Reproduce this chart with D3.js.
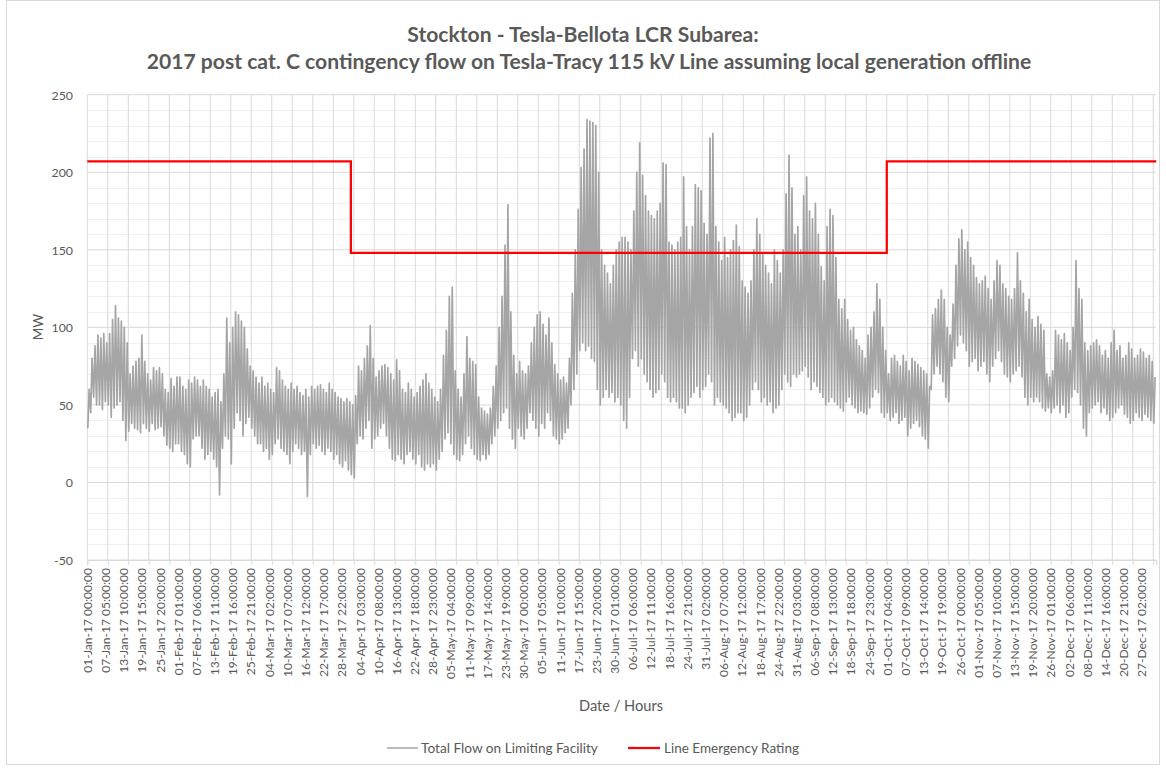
<!DOCTYPE html>
<html>
<head>
<meta charset="utf-8">
<script src="https://cdn.jsdelivr.net/npm/d3@7"></script>
<style>
  body { margin: 0; background: #fff; }
  svg { display: block; }
  text { font-family: Lato, "Open Sans", "Liberation Sans", sans-serif; fill: #595959; }
</style>
</head>
<body>
<svg id="chart" width="1166" height="771"></svg>
<script>
// Daily [low, high] flow on the limiting facility, MW, one pair per day
const flowJan = [[35,60],[45,80],[55,88],[50,95],[50,93],[47,96],[52,90],[50,96],[42,105],[48,114],[50,106],[52,104],[40,100],[27,90],[33,70],[38,75],[35,78],[34,80],[32,95],[38,78],[35,70],[33,66],[38,74],[34,72],[35,74],[36,70],[30,60],[24,58],[22,67],[20,62],[25,68]];
const flowFeb = [[25,68],[20,62],[18,60],[12,66],[10,64],[28,68],[30,66],[30,62],[22,66],[15,62],[18,60],[20,55],[15,58],[10,60],[-8,52],[22,70],[30,106],[28,90],[12,100],[35,110],[45,108],[40,104],[30,100],[38,86],[42,75],[35,72],[30,68],[25,64]];
const flowMar = [[25,68],[20,62],[22,64],[15,60],[18,58],[25,74],[28,72],[22,66],[20,62],[18,60],[12,64],[20,60],[25,62],[22,58],[18,56],[20,60],[-9,55],[18,62],[25,60],[22,62],[24,63],[20,60],[18,58],[22,64],[20,60],[15,58],[18,55],[12,54],[10,52],[14,54],[8,52]];
const flowApr = [[5,50],[3,56],[25,75],[30,72],[28,80],[35,88],[40,101],[22,80],[28,68],[30,72],[35,75],[38,76],[30,74],[22,70],[15,66],[14,79],[18,72],[15,60],[12,58],[18,64],[20,60],[15,55],[12,58],[18,62],[10,66],[8,70],[12,64],[10,60],[12,55],[8,52]];
const flowMay = [[15,60],[20,82],[28,98],[32,120],[25,126],[18,72],[15,60],[14,55],[18,70],[25,94],[30,80],[22,78],[18,76],[15,55],[14,48],[18,46],[15,44],[18,48],[25,62],[30,75],[35,100],[40,120],[45,153],[48,179],[35,110],[28,82],[22,70],[35,78],[30,72],[28,70],[35,75]];
const flowJun = [[45,90],[40,100],[35,108],[30,110],[38,102],[35,95],[45,106],[40,90],[30,76],[28,70],[25,66],[28,68],[32,64],[35,80],[50,122],[60,150],[70,176],[85,203],[90,215],[85,234],[88,233],[80,232],[78,230],[60,200],[50,150],[55,140],[60,135],[55,128],[58,140],[52,150]];
const flowJul = [[55,155],[50,158],[40,158],[35,155],[55,150],[80,175],[85,200],[75,219],[80,198],[70,185],[65,175],[60,172],[55,170],[58,175],[60,180],[70,206],[65,205],[55,155],[52,153],[55,150],[52,155],[48,158],[48,197],[45,165],[50,150],[55,165],[58,192],[62,190],[55,188],[60,167],[62,160]];
const flowAug = [[70,222],[65,225],[50,165],[55,155],[52,143],[50,158],[48,145],[45,150],[40,156],[42,166],[45,152],[45,130],[40,126],[42,122],[50,130],[60,150],[65,170],[60,160],[52,148],[55,140],[50,135],[52,128],[45,150],[48,143],[50,135],[60,150],[70,186],[65,211],[62,190],[70,160],[68,165]];
const flowSep = [[70,150],[72,185],[75,197],[68,175],[60,170],[65,180],[62,160],[58,139],[55,130],[50,165],[52,176],[55,172],[52,145],[50,118],[48,112],[46,118],[52,105],[55,98],[50,100],[48,92],[45,88],[46,85],[45,80],[44,95],[48,100],[55,110],[60,128],[58,118],[45,100],[42,85]];
const flowOct = [[45,70],[40,80],[42,82],[45,78],[38,75],[40,82],[42,78],[30,72],[35,80],[38,78],[40,76],[36,74],[30,72],[28,70],[22,62],[60,108],[70,112],[75,118],[70,124],[65,118],[55,100],[52,95],[75,115],[80,140],[88,157],[95,163],[90,150],[85,155],[75,145],[78,140],[80,132]];
const flowNov = [[72,128],[75,130],[78,133],[70,125],[65,118],[75,130],[80,143],[85,140],[78,128],[70,125],[68,120],[65,118],[70,125],[72,148],[75,130],[68,122],[55,110],[50,118],[55,105],[52,100],[55,107],[52,102],[48,98],[46,70],[48,68],[45,72],[48,98],[50,95],[45,92],[50,96]];
const flowDec = [[42,90],[45,85],[55,100],[60,143],[58,125],[50,118],[35,90],[30,85],[45,88],[48,90],[50,92],[52,88],[45,82],[48,85],[44,80],[40,90],[42,98],[45,85],[48,88],[50,80],[44,82],[42,90],[38,86],[40,80],[45,82],[42,86],[40,84],[44,80],[42,82],[40,78],[38,68]];

// Line emergency rating, MW, from the given hour of the year onward
const ratingHours = [0, 2160, 6552];
const ratingMW = [207, 148, 207];

const yTicks = [-50, 0, 50, 100, 150, 200, 250];
const hoursInYear = 8760;
const labelStepHours = 149;   // category label interval
const tickStepHours = 168;    // tick mark / gridline interval

const titleLines = [
  "Stockton - Tesla-Bellota LCR Subarea:",
  "2017 post cat. C contingency flow on Tesla-Tracy 115 kV Line assuming local generation offline"
];
const seriesNames = ["Total Flow on Limiting Facility", "Line Emergency Rating"];

// ---- build the hourly series: daily low near 04:00, daily high near 15:00
const months = [flowJan, flowFeb, flowMar, flowApr, flowMay, flowJun, flowJul, flowAug, flowSep, flowOct, flowNov, flowDec];
const flowPoints = [];
let day = 0;
months.forEach(m => m.forEach(([lo, hi]) => {
  flowPoints.push({ hour: day * 24 + 4, mw: lo });
  flowPoints.push({ hour: day * 24 + 15, mw: hi });
  day++;
}));
const ratingPoints = ratingHours.map((h, i) => ({ hour: h, mw: ratingMW[i] }));
ratingPoints.push({ hour: hoursInYear, mw: ratingMW[ratingMW.length - 1] });

const svg = d3.select("#chart");
const plot = { left: 87.3, right: 1156.2, top: 94.7, bottom: 560 };

const x = d3.scaleLinear().domain([0, hoursInYear]).range([plot.left, plot.right]);
const y = d3.scaleLinear().domain([-50, 250]).range([plot.bottom, plot.top]);

// chart border
svg.append("rect").attr("x", 6.5).attr("y", 0.5).attr("width", 1153).attr("height", 764)
  .attr("fill", "none").attr("stroke", "#d9d9d9");

// helper: size a text so it spans a given width
function fitWidth(sel, width) {
  sel.each(function () {
    const fs = parseFloat(this.getAttribute("font-size")) || 12;
    const w = this.getComputedTextLength();
    if (w > 0) this.setAttribute("font-size", (fs * width / w).toFixed(2));
  });
}

// minor horizontal gridlines
const minor = d3.range(-50, 251, 10).filter(v => v % 50 !== 0);
svg.append("g").selectAll("line").data(minor).join("line")
  .attr("x1", plot.left).attr("x2", plot.right)
  .attr("y1", d => Math.round(y(d)) + 0.5).attr("y2", d => Math.round(y(d)) + 0.5)
  .attr("stroke", "#f0f0f0").attr("stroke-width", 1);

// vertical gridlines every tickStepHours
const gridHours = d3.range(0, hoursInYear, tickStepHours);
svg.append("g").selectAll("line").data(gridHours).join("line")
  .attr("x1", d => x(d)).attr("x2", d => x(d))
  .attr("y1", plot.top).attr("y2", plot.bottom)
  .attr("stroke", "#d9d9d9").attr("stroke-width", 1);

// major horizontal gridlines
svg.append("g").selectAll("line").data(yTicks).join("line")
  .attr("x1", plot.left).attr("x2", plot.right)
  .attr("y1", d => y(d)).attr("y2", d => y(d))
  .attr("stroke", "#d9d9d9").attr("stroke-width", 1);

// x axis: tick marks every week, labels every 149 hours
const xAxisTicks = d3.axisBottom(x).tickValues(gridHours).tickSize(5).tickFormat("");
const gx = svg.append("g").attr("transform", `translate(0,${plot.bottom})`).call(xAxisTicks);
gx.select(".domain").attr("stroke", "#d9d9d9");
gx.selectAll(".tick line").attr("stroke", "#d9d9d9");

const fmt = d3.utcFormat("%d-%b-%y %H:%M:%S");
const start = Date.UTC(2017, 0, 1);
const labelHours = d3.range(0, hoursInYear, labelStepHours);
const xl = svg.append("g").selectAll("text").data(labelHours).join("text")
  .attr("transform", d => `translate(${x(d + 0.5) + 4.5},568) rotate(-90)`)
  .attr("text-anchor", "end")
  .attr("font-size", 12)
  .text(d => fmt(new Date(start + d * 3600e3)));
// all labels share one size, set from the first
(function () {
  const w = xl.node().getComputedTextLength();
  xl.attr("font-size", (12 * 105 / w).toFixed(2));
})();

// y axis labels
const yl = svg.append("g").selectAll("text").data(yTicks).join("text")
  .attr("x", 73).attr("y", d => y(d) + 5)
  .attr("text-anchor", "end").attr("font-size", 14)
  .text(d => d);
(function () {
  const w = yl.filter(d => d === 250).node().getComputedTextLength();
  yl.attr("font-size", (14 * 21.5 / w).toFixed(2));
})();

// series: total flow
const line = d3.line().x(d => x(d.hour)).y(d => y(d.mw));
svg.append("path").datum(flowPoints)
  .attr("d", line).attr("fill", "none")
  .attr("stroke", "#a5a5a5").attr("stroke-width", 1.7).attr("stroke-linejoin", "round");

// series: line emergency rating
const stepLine = d3.line().x(d => x(d.hour)).y(d => y(d.mw)).curve(d3.curveStepAfter);
svg.append("path").datum(ratingPoints)
  .attr("d", stepLine).attr("fill", "none")
  .attr("stroke", "#ff0000").attr("stroke-width", 2.25);

// titles
const t1 = svg.append("text").attr("x", 583).attr("y", 42).attr("text-anchor", "middle")
  .attr("font-weight", "bold").attr("font-size", 18).text(titleLines[0]);
const t2 = svg.append("text").attr("x", 589).attr("y", 69).attr("text-anchor", "middle")
  .attr("font-weight", "bold").attr("font-size", 18).text(titleLines[1]);
fitWidth(t2, 885);
t1.attr("font-size", t2.attr("font-size"));

// axis titles
svg.append("text").attr("transform", "translate(43,327) rotate(-90)")
  .attr("text-anchor", "middle").attr("font-size", 13.5).text("MW");
const xt = svg.append("text").attr("x", 621).attr("y", 711)
  .attr("text-anchor", "middle").attr("font-size", 14).text("Date / Hours");
fitWidth(xt, 84);

// legend
const lg = svg.append("g");
lg.append("line").attr("x1", 387).attr("x2", 418).attr("y1", 748).attr("y2", 748)
  .attr("stroke", "#a5a5a5").attr("stroke-width", 1.5);
const lt1 = lg.append("text").attr("x", 421).attr("y", 753).attr("font-size", 14).text(seriesNames[0]);
fitWidth(lt1, 177);
lg.append("line").attr("x1", 628).attr("x2", 660).attr("y1", 748).attr("y2", 748)
  .attr("stroke", "#ff0000").attr("stroke-width", 2.25);
const lt2 = lg.append("text").attr("x", 664).attr("y", 753).attr("font-size", 14).text(seriesNames[1]);
fitWidth(lt2, 135);
</script>
</body>
</html>
